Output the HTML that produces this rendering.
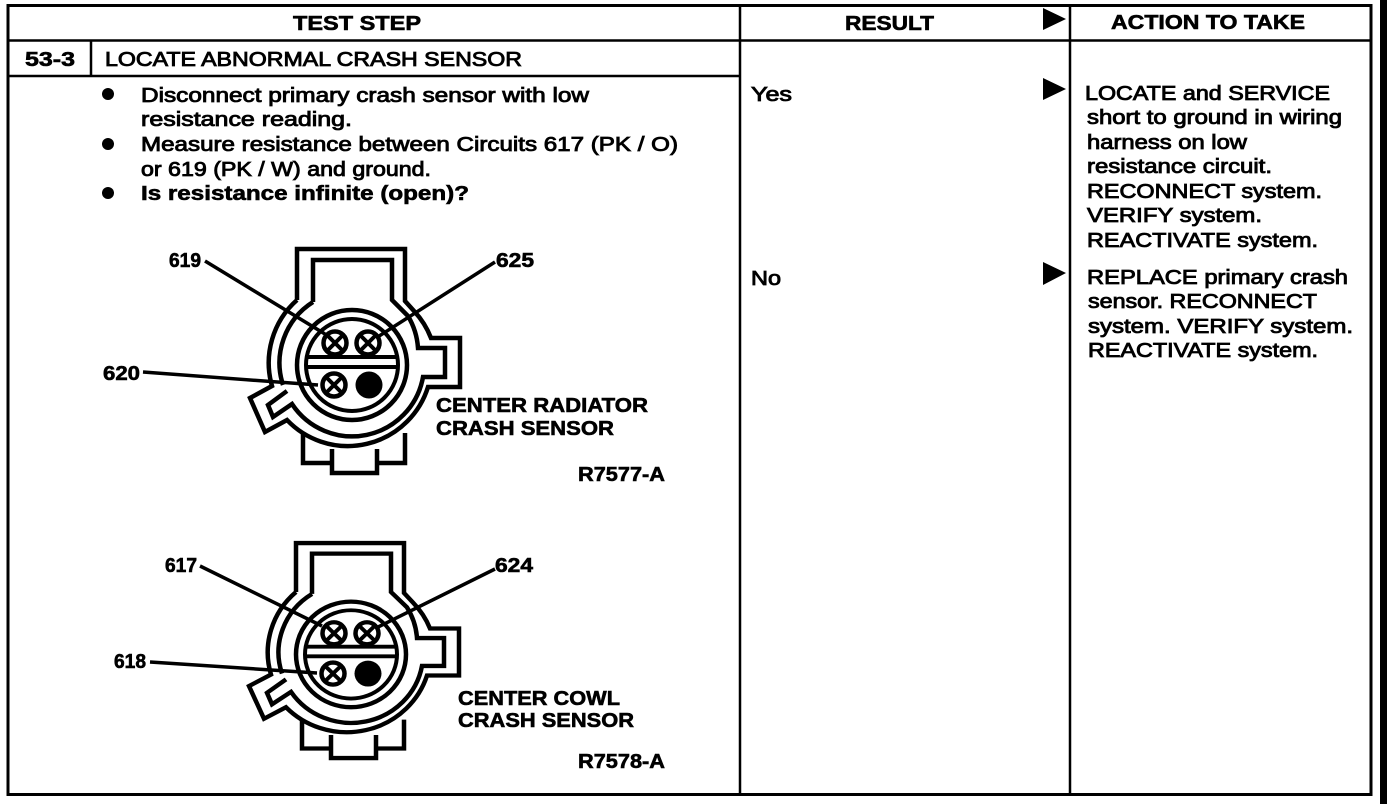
<!DOCTYPE html>
<html><head><meta charset="utf-8"><style>
html,body{margin:0;padding:0;background:#fff;width:1392px;height:804px;overflow:hidden}
svg{display:block}
text{font-family:"Liberation Sans",Arial,sans-serif;fill:#000}
.r{font-size:20px;stroke:#000;stroke-width:.85}
.b{font-size:20px;font-weight:bold;stroke:#000;stroke-width:.6}
.l{fill:none;stroke:#000;stroke-width:3.5}
</style></head><body>
<svg width="1392" height="804" viewBox="0 0 1392 804" xmlns="http://www.w3.org/2000/svg">
<defs>
<g id="pin"><circle r="11.5" fill="#fff" stroke="#000" stroke-width="4.5"/><path d="M-8-8L8 8M8-8L-8 8" stroke="#000" stroke-width="4"/></g>
<g id="conn" fill="none" stroke="#000">
<path stroke-width="4.5" d="M297 300V249H405V301L414 311A84 84 0 0 1 431 338H460V387H428A84 84 0 0 1 287 420L265 432L250 398L272 386A84 84 0 0 1 297 300"/>
<path stroke-width="4.5" d="M303 433V463H332V473H377V463H405V433M332 449V473M377 449V473"/>
<path stroke-width="4.5" d="M313 302V260H392V300L408 316A72 72 0 0 1 418 348H445V377H423A72 72 0 0 1 292 404L273 417L268 405L287 391M283 385A72 72 0 0 1 313 302"/>
<circle cx="352" cy="365" r="55" stroke-width="4.5"/>
<circle cx="352" cy="365" r="46" stroke-width="4"/>
<path stroke-width="4" d="M308 357H396M308 367H396"/>
<use href="#pin" x="335" y="343"/>
<use href="#pin" x="368" y="343"/>
<use href="#pin" x="334" y="385"/>
<circle cx="369" cy="385" r="13.5" fill="#000" stroke="none"/>
</g>
</defs>

<rect x="1380" y="0" width="7" height="804" fill="#000"/>
<rect x="8" y="5.5" width="1363" height="789" fill="none" stroke="#000" stroke-width="3"/>
<path d="M8 40.5H1371M8 76H740M91 41V76M740 6V794M1070 6V794" fill="none" stroke="#000" stroke-width="2.5"/>

<path d="M1043 8L1066 19L1043 30Z M1043 78L1066 89L1043 100Z M1043 262L1066 273L1043 285Z" fill="#000"/>

<text class="b" x="293" y="30" textLength="128" lengthAdjust="spacingAndGlyphs">TEST STEP</text>
<text class="b" x="845" y="30" textLength="89" lengthAdjust="spacingAndGlyphs">RESULT</text>
<text class="b" x="1111" y="29" textLength="194" lengthAdjust="spacingAndGlyphs">ACTION TO TAKE</text>
<text class="b" x="25" y="66" textLength="50" lengthAdjust="spacingAndGlyphs">53-3</text>
<text class="r" x="105" y="66" textLength="417" lengthAdjust="spacingAndGlyphs">LOCATE ABNORMAL CRASH SENSOR</text>

<circle cx="108" cy="94" r="6"/><circle cx="108" cy="144" r="6"/><circle cx="108" cy="193" r="6"/>
<text class="r" x="141" y="102" textLength="448" lengthAdjust="spacingAndGlyphs">Disconnect primary crash sensor with low</text>
<text class="r" x="141" y="126" textLength="211" lengthAdjust="spacingAndGlyphs">resistance reading.</text>
<text class="r" x="141" y="151" textLength="537" lengthAdjust="spacingAndGlyphs">Measure resistance between Circuits 617 (PK / O)</text>
<text class="r" x="141" y="176" textLength="290" lengthAdjust="spacingAndGlyphs">or 619 (PK / W) and ground.</text>
<text class="b" x="141" y="200" textLength="328" lengthAdjust="spacingAndGlyphs">Is resistance infinite (open)?</text>

<text class="r" x="751" y="101" textLength="41" lengthAdjust="spacingAndGlyphs">Yes</text>
<text class="r" x="751" y="285" textLength="30" lengthAdjust="spacingAndGlyphs">No</text>

<text class="r" x="1085" y="100" textLength="245" lengthAdjust="spacingAndGlyphs">LOCATE and SERVICE</text>
<text class="r" x="1087" y="124" textLength="255" lengthAdjust="spacingAndGlyphs">short to ground in wiring</text>
<text class="r" x="1087" y="149" textLength="160" lengthAdjust="spacingAndGlyphs">harness on low</text>
<text class="r" x="1087" y="173" textLength="185" lengthAdjust="spacingAndGlyphs">resistance circuit.</text>
<text class="r" x="1087" y="198" textLength="235" lengthAdjust="spacingAndGlyphs">RECONNECT system.</text>
<text class="r" x="1087" y="222" textLength="175" lengthAdjust="spacingAndGlyphs">VERIFY system.</text>
<text class="r" x="1087" y="247" textLength="231" lengthAdjust="spacingAndGlyphs">REACTIVATE system.</text>
<text class="r" x="1087" y="284" textLength="261" lengthAdjust="spacingAndGlyphs">REPLACE primary crash</text>
<text class="r" x="1088" y="308" textLength="229" lengthAdjust="spacingAndGlyphs">sensor. RECONNECT</text>
<text class="r" x="1088" y="333" textLength="265" lengthAdjust="spacingAndGlyphs">system. VERIFY system.</text>
<text class="r" x="1088" y="357" textLength="230" lengthAdjust="spacingAndGlyphs">REACTIVATE system.</text>

<use href="#conn"/>
<use href="#conn" transform="translate(-1 304) scale(1 .96)"/>

<path class="l" d="M205 261L325 334M495 262L376 338"/>
<path class="l" d="M143 372L318 385"/>
<path class="l" d="M200 566L322 626M495 569L376 628"/>
<path class="l" d="M150 662L317 673"/>

<text class="b" x="169" y="267" textLength="32" lengthAdjust="spacingAndGlyphs">619</text>
<text class="b" x="496" y="267" textLength="38" lengthAdjust="spacingAndGlyphs">625</text>
<text class="b" x="103" y="380" textLength="37" lengthAdjust="spacingAndGlyphs">620</text>
<text class="b" x="165" y="572" textLength="32" lengthAdjust="spacingAndGlyphs">617</text>
<text class="b" x="495" y="572" textLength="38" lengthAdjust="spacingAndGlyphs">624</text>
<text class="b" x="114" y="668" textLength="32" lengthAdjust="spacingAndGlyphs">618</text>

<text class="b" x="436" y="412" textLength="212" lengthAdjust="spacingAndGlyphs">CENTER RADIATOR</text>
<text class="b" x="436" y="435" textLength="178" lengthAdjust="spacingAndGlyphs">CRASH SENSOR</text>
<text class="b" x="578" y="481" textLength="87" lengthAdjust="spacingAndGlyphs">R7577-A</text>
<text class="b" x="458" y="705" textLength="162" lengthAdjust="spacingAndGlyphs">CENTER COWL</text>
<text class="b" x="458" y="727" textLength="176" lengthAdjust="spacingAndGlyphs">CRASH SENSOR</text>
<text class="b" x="578" y="768" textLength="87" lengthAdjust="spacingAndGlyphs">R7578-A</text>
</svg>
</body></html>
